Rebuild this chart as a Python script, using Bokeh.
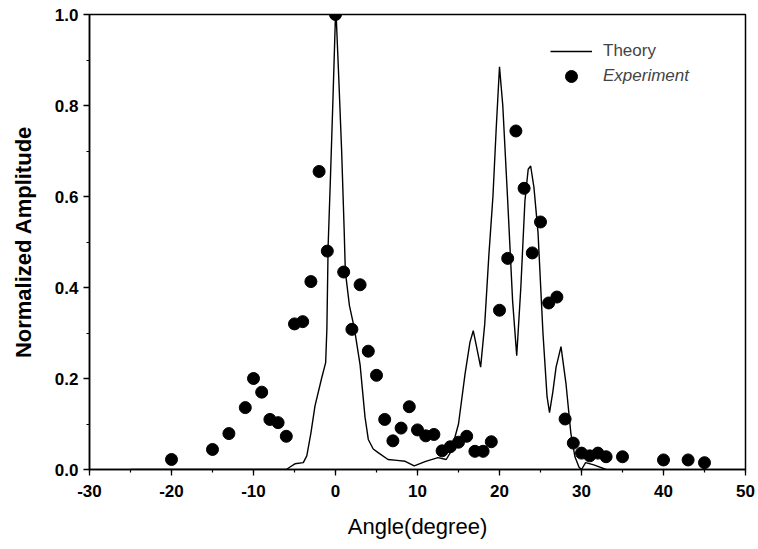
from bokeh.plotting import figure
from bokeh.models import FixedTicker, PrintfTickFormatter, Legend, LegendItem, ColumnDataSource
from bokeh.embed import file_html
from bokeh.resources import INLINE

# Experiment (measured) points
exp_angle = [-20, -15, -13, -11, -10, -9, -8, -7, -6, -5, -4, -3, -2, -1, 0, 1, 2, 3, 4, 5,
             6, 7, 8, 9, 10, 11, 12, 13, 14, 15, 16, 17, 18, 19, 20, 21, 22, 23, 24, 25,
             26, 27, 28, 29, 30, 31, 32, 33, 35, 40, 43, 45]
exp_amp = [0.022, 0.044, 0.079, 0.136, 0.20, 0.17, 0.11, 0.103, 0.073, 0.32, 0.325, 0.413, 0.655, 0.48, 1.0, 0.434, 0.308, 0.406, 0.26, 0.207,
           0.11, 0.063, 0.091, 0.138, 0.087, 0.074, 0.077, 0.041, 0.05, 0.06, 0.073, 0.04, 0.04, 0.061, 0.35, 0.464, 0.744, 0.618, 0.476, 0.544,
           0.366, 0.379, 0.111, 0.058, 0.036, 0.03, 0.036, 0.028, 0.028, 0.021, 0.021, 0.015]

# Theory curve
th_angle = [-25, -7, -6, -5.5, -4.95, -3.93, -3.5, -3.0, -2.5, -1.7, -1.2, -1.05, -0.9, -0.6, -0.3, 0.0,
            0.1, 0.4, 0.75, 1.05, 1.2, 1.7, 2.3, 3.0, 3.6, 4.0, 4.6, 5.2, 6.4, 7.5, 8.5, 9.6, 11.0, 12.5,
            13.5, 14.1, 15.0, 15.8, 16.4, 16.8, 17.2, 17.7, 18.2, 18.7, 19.2, 19.6, 20.0, 20.4, 21.0, 21.6,
            22.1, 22.6, 23.1, 23.5, 23.8, 24.2, 24.7, 25.3, 25.8, 26.1, 26.5, 26.9, 27.5, 28.1, 28.7, 29.2,
            29.7, 30.0, 30.5, 31.5, 33.0]
th_amp = [0.0, 0.0, 0.0, 0.006, 0.0125, 0.015, 0.03, 0.08, 0.14, 0.20, 0.235, 0.31, 0.49, 0.65, 0.82, 1.0,
          0.99, 0.86, 0.70, 0.53, 0.435, 0.36, 0.31, 0.23, 0.115, 0.066, 0.045, 0.037, 0.022, 0.02, 0.018, 0.008, 0.018, 0.026,
          0.022, 0.04, 0.10, 0.21, 0.28, 0.305, 0.27, 0.225, 0.32, 0.47, 0.60, 0.75, 0.885, 0.80, 0.59, 0.37,
          0.25, 0.40, 0.59, 0.66, 0.667, 0.62, 0.52, 0.30, 0.16, 0.125, 0.17, 0.225, 0.27, 0.19, 0.08, 0.028,
          0.005, 0.0, 0.015, 0.01, 0.0]

x_ticks = [-30, -20, -10, 0, 10, 20, 30, 40, 50]
y_ticks = [0.0, 0.2, 0.4, 0.6, 0.8, 1.0]

p = figure(frame_width=656, frame_height=455, x_range=(-30, 50), y_range=(0, 1.0),
           output_backend="svg", toolbar_location=None,
           min_border_left=89, min_border_right=11, min_border_top=14, min_border_bottom=70)
p.background_fill_color = "white"
p.border_fill_color = "white"
p.outline_line_color = "black"
p.outline_line_width = 1.5
p.xgrid.visible = False
p.ygrid.visible = False

xt = FixedTicker(ticks=x_ticks, minor_ticks=list(range(-30, 51, 5)))
yt = FixedTicker(ticks=y_ticks, minor_ticks=[i / 10 for i in range(11)])
p.xaxis.ticker = xt
p.yaxis.ticker = yt
p.xaxis.formatter = PrintfTickFormatter(format="%d")
p.yaxis.formatter = PrintfTickFormatter(format="%.1f")

for ax in (p.xaxis[0], p.yaxis[0]):
    ax.axis_line_color = "black"
    ax.axis_line_width = 1.5
    ax.major_tick_line_color = "black"
    ax.minor_tick_line_color = "black"
    ax.major_tick_line_width = 1.3
    ax.minor_tick_line_width = 1.2
    ax.major_tick_out = 6
    ax.major_tick_in = 0
    ax.minor_tick_out = 3
    ax.minor_tick_in = 0
    ax.major_label_text_font = "Liberation Sans"
    ax.major_label_text_font_style = "bold"
    ax.major_label_text_font_size = "17px"
    ax.major_label_text_color = "black"
    ax.axis_label_text_font = "Liberation Sans"
    ax.axis_label_text_color = "black"

p.xaxis.axis_label = "Angle(degree)"
p.xaxis.axis_label_text_font_size = "22px"
p.xaxis.axis_label_text_font_style = "normal"
p.xaxis.axis_label_standoff = 14
p.xaxis.major_label_standoff = 9

p.yaxis.axis_label = "Normalized Amplitude"
p.yaxis.axis_label_text_font_size = "22px"
p.yaxis.axis_label_text_font_style = "bold"
p.yaxis.axis_label_standoff = 16
p.yaxis.major_label_standoff = 5

src_th = ColumnDataSource(dict(x=th_angle, y=th_amp))
src_ex = ColumnDataSource(dict(x=exp_angle, y=exp_amp))
r_th = p.line("x", "y", source=src_th, line_color="black", line_width=1.4)
r_ex = p.scatter("x", "y", source=src_ex, size=12, fill_color="black", line_color="black", marker="circle")

leg1 = Legend(items=[LegendItem(label="Theory", renderers=[r_th])], location=(461, 403),
              orientation="vertical", padding=0, margin=0, spacing=0,
              glyph_width=42, glyph_height=30, label_height=30, label_standoff=11,
              label_text_font="Liberation Sans", label_text_font_size="17px",
              border_line_color=None, background_fill_alpha=0)
leg2 = Legend(items=[LegendItem(label="Experiment", renderers=[r_ex])], location=(461, 378),
              orientation="vertical", padding=0, margin=0, spacing=0,
              glyph_width=42, glyph_height=30, label_height=30, label_standoff=11,
              label_text_font="Liberation Sans", label_text_font_size="17px", label_text_font_style="italic",
              border_line_color=None, background_fill_alpha=0)
p.add_layout(leg1, "center")
p.add_layout(leg2, "center")

open("out.html", "w").write(file_html(p, INLINE))
